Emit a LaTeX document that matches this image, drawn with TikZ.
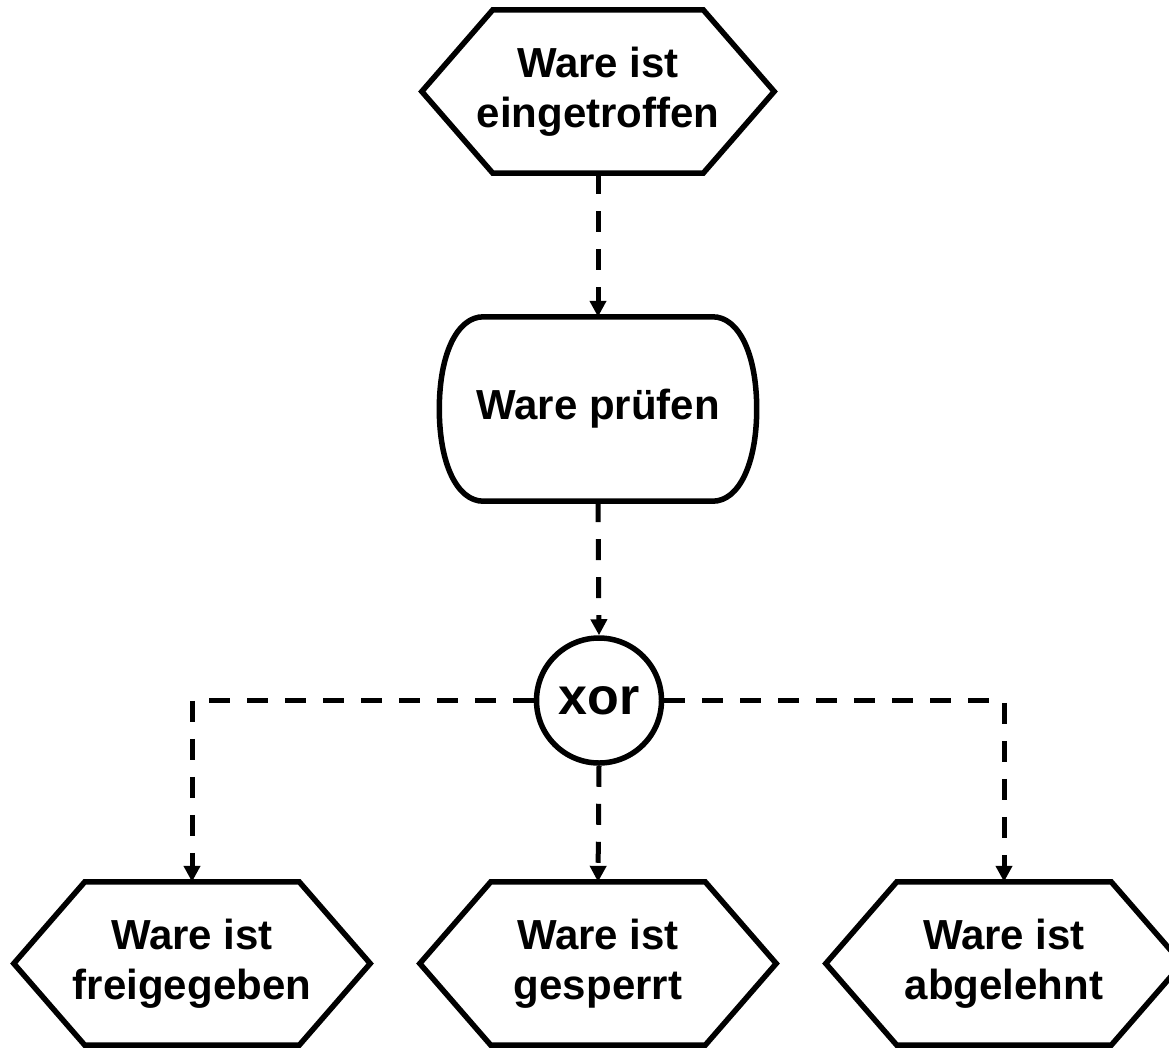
\documentclass[tikz,border=0pt]{standalone}
\usepackage{fontspec}
\setmainfont{Liberation Sans}
\usetikzlibrary{arrows.meta,calc}
\begin{document}
\begin{tikzpicture}[x=1pt,y=-1pt,
  border/.style={line width=5.5pt, draw=black},
  flow/.style={line width=5pt, dash pattern=on 21pt off 17pt, -{Triangle[length=16pt,width=16pt]}},
  hexbox/.style={shape=rectangle, inner sep=0pt, minimum height=163pt, align=center,
    font=\fontsize{42}{50}\bfseries\selectfont},
  procbox/.style={shape=rectangle, inner sep=0pt, minimum width=317pt, minimum height=184pt,
    font=\fontsize{42}{50}\bfseries\selectfont},
  xorbox/.style={shape=circle, border, inner sep=0pt, minimum size=125pt,
    font=\fontsize{52}{60}\bfseries\selectfont}
]
\useasboundingbox (0,0) rectangle (1169,1047);
\fill[white] (0,0) rectangle (1169,1047);

\node[hexbox, minimum width=352pt] (top) at (598,91.5) {Ware ist\\eingetroffen};
\node[procbox] (pruefen) at (598,409) {Ware prüfen};
\node[xorbox] (xor) at (599,700.5) {xor};
\node[hexbox, minimum width=356pt] (f) at (192,963.5) {Ware ist\\freigegeben};
\node[hexbox, minimum width=356pt] (g) at (598,963.5) {Ware ist\\gesperrt};
\node[hexbox, minimum width=356pt] (a) at (1004,963.5) {Ware ist\\abgelehnt};

\foreach \n in {top,f,g,a}{
  \draw[border] (\n.west) -- ([xshift=71pt]\n.north west) -- ([xshift=-71pt]\n.north east)
    -- (\n.east) -- ([xshift=-71pt]\n.south east) -- ([xshift=71pt]\n.south west) -- cycle;
}

\draw[border]
  ([xshift=44pt]pruefen.north west) -- ([xshift=-44pt]pruefen.north east)
  .. controls ([xshift=-18pt]pruefen.north east) and ([yshift=-37pt]pruefen.north east) .. (pruefen.east)
  .. controls ([yshift=37pt]pruefen.south east) and ([xshift=-18pt]pruefen.south east) .. ([xshift=-44pt]pruefen.south east)
  -- ([xshift=44pt]pruefen.south west)
  .. controls ([xshift=18pt]pruefen.south west) and ([yshift=37pt]pruefen.south west) .. (pruefen.west)
  .. controls ([yshift=-37pt]pruefen.north west) and ([xshift=18pt]pruefen.north west) .. ([xshift=44pt]pruefen.north west)
  -- cycle;

\draw[flow] (top.south) -- (pruefen.north);
\draw[flow] (pruefen.south) -- (xor.north);
\draw[flow] (xor.west) -| (f.north);
\draw[flow] (xor.east) -| (a.north);
\draw[flow] (xor.south) -- (g.north);
\end{tikzpicture}
\end{document}
